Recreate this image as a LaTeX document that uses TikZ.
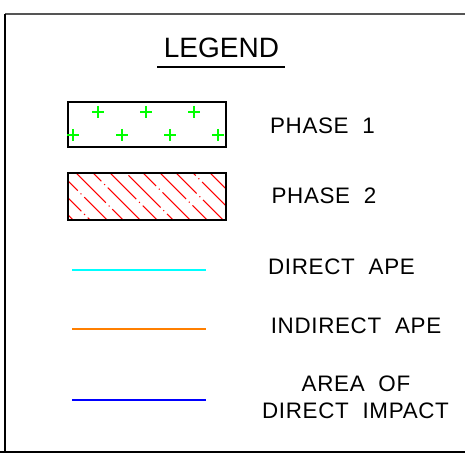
\documentclass[tikz,border=0pt]{standalone}
\usepackage{fontspec}
\setmainfont{Liberation Sans}
\definecolor{hatchred}{RGB}{255,0,0}
\definecolor{plusgreen}{RGB}{0,255,0}
\definecolor{apecyan}{RGB}{0,255,255}
\definecolor{apeorange}{RGB}{255,127,0}
\definecolor{impactblue}{RGB}{0,0,255}
\begin{document}
\begin{tikzpicture}[x=0.75pt,y=0.75pt,yscale=-1,xscale=1,
  legtxt/.style={inner sep=0pt,font=\fontsize{16.8}{20}\selectfont\addfontfeature{LetterSpace=3}},
  keyline/.style={line width=1.5pt},
  plusmark/.style={plusgreen,line width=1.1pt}]
\useasboundingbox (0,0) rectangle (465,459);
%Shape: Frame
\draw [color={rgb, 255:red, 85; green, 85; blue, 85 }, line width=1.5pt] (5,14) -- (465,14) ;
\draw [line width=1pt] (5,14) -- (5,452) ;
\draw [line width=2.2pt] (0,452) -- (465,452) ;
% Text Node
\draw (221.5,48) node (legend) [inner sep=0pt,font=\fontsize{21}{24}\selectfont] {LEGEND};
\draw [line width=1.1pt] (157,67) -- (285,67) ;
%Shape: Rectangle [phase 1]
\draw [line width=0.9pt] (68,102) rectangle (226,147) ;
\foreach \px/\py in {98/112,146/112,194/112,73/135,122/135,170/135,218/135}
  \draw [plusmark] (\px-6,\py) -- (\px+6,\py) (\px,\py-6) -- (\px,\py+6) ;
%Shape: Rectangle [phase 2]
\begin{scope}
\clip (68,173) rectangle (226,220);
\foreach \hx/\ph in {3/5,20/31,37/12,53/40,70/22,87/3,103/35,120/17,137/44,153/9,170/28,187/14,203/38,220/21}
  \draw [hatchred, line width=0.8pt, dash pattern=on 34 off 3 on 0.8 off 3, dash phase=\ph]
    (\hx+20,170) -- (\hx+73,223) ;
\end{scope}
\draw [line width=0.9pt] (68,173) rectangle (226,220) ;
%Straight Lines
\draw [keyline, apecyan] (72,270) -- (206,270) ;
\draw [keyline, apeorange] (72,329) -- (206,329) ;
\draw [keyline, impactblue] (72,400) -- (206,400) ;
% Text Node
\draw (322.5,126) node (phase1) [legtxt] {PHASE\ \ 1};
% Text Node
\draw (324,196) node (phase2) [legtxt] {PHASE\ \ 2};
% Text Node
\draw (341.5,267) node (direct) [legtxt] {DIRECT\ \ APE};
% Text Node
\draw (356,326) node (indirect) [legtxt] {INDIRECT\ \ APE};
% Text Node
\draw (356,384) node (areaof) [legtxt] {AREA\ \ OF};
% Text Node
\draw (355.5,411) node (impact) [legtxt] {DIRECT\ \ IMPACT};
\end{tikzpicture}
\end{document}
